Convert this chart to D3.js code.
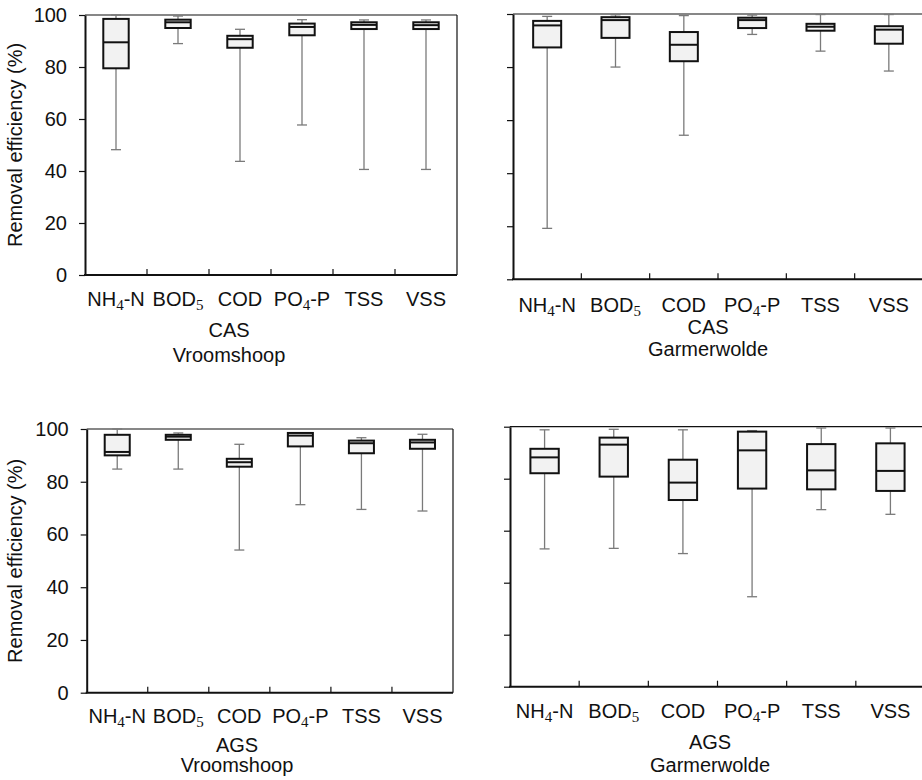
<!DOCTYPE html>
<html lang="en">
<head>
<meta charset="utf-8">
<title>Removal efficiency box plots</title>
<script src="https://cdn.jsdelivr.net/npm/d3@7"></script>
<style>
  body { margin: 0; background: #fff; }
  text { font-family: "Liberation Sans", Arial, sans-serif; fill: #111; }
</style>
</head>
<body>
<script>
// categories, each label split into [main, subscript, rest]
var categories = ["NH4-N", "BOD5", "COD", "PO4-P", "TSS", "VSS"];
var catParts = [["NH", "4", "-N"], ["BOD", "5", ""], ["COD", "", ""], ["PO", "4", "-P"], ["TSS", "", ""], ["VSS", "", ""]];
var yTicks = [0, 20, 40, 60, 80, 100];

// [min, q1, median, q3, max] per category
var casVroomshoop = [
  [48.2, 79.5, 89.5, 98.5, 100],
  [89, 95, 97.2, 98.2, 99.6],
  [43.7, 87.4, 90.7, 92, 94.5],
  [57.7, 92.2, 95.4, 96.7, 98.2],
  [40.6, 94.6, 96.2, 97.2, 98.1],
  [40.6, 94.6, 96.1, 97.2, 98.1]
];
var casGarmerwolde = [
  [19.2, 87.4, 95.7, 97.4, 99.1],
  [80, 91, 97.7, 98.8, 99.7],
  [54.3, 82.2, 88.4, 93.2, 99.4],
  [92.3, 94.7, 97.7, 98.6, 99.6],
  [86, 93.7, 95.2, 96.3, 99.8],
  [78.5, 88.8, 94.1, 95.4, 99.8]
];
var agsVroomshoop = [
  [84.8, 90, 91.3, 97.8, 100],
  [84.8, 95.9, 97.1, 97.8, 98.5],
  [54.1, 85.7, 87.4, 88.7, 94.2],
  [71.3, 93.4, 97.5, 98.5, 98.6],
  [69.5, 90.8, 94.6, 95.6, 96.7],
  [68.9, 92.5, 94.9, 95.9, 98]
];
var agsGarmerwolde = [
  [53, 82.1, 88.2, 91.5, 98.8],
  [53.2, 80.8, 93.1, 95.8, 99],
  [51.2, 71.8, 78.5, 87.3, 98.8],
  [34.6, 76.2, 90.9, 98.1, 98.5],
  [68.1, 75.9, 83.2, 93.3, 99.5],
  [66.3, 75.3, 83, 93.6, 99.5]
];

var svg = d3.select("body").append("svg")
  .attr("width", 922).attr("height", 780);

var panels = [
  {data: casVroomshoop, l: 85, t: 15, r: 457, b: 275, labels: true, lab: 306,
   title: ["CAS", "Vroomshoop"], tx: 229, ty: [337, 361.5]},
  {data: casGarmerwolde, l: 513, t: 14, r: 923, b: 279.3, labels: false, lab: 311.5,
   title: ["CAS", "Garmerwolde"], tx: 708, ty: [334, 356]},
  {data: agsVroomshoop, l: 86.7, t: 429, r: 453, b: 692.7, labels: true, lab: 723,
   title: ["AGS", "Vroomshoop"], tx: 237, ty: [751.5, 772]},
  {data: agsGarmerwolde, l: 510, t: 426.7, r: 925, b: 686.7, labels: false, lab: 718,
   title: ["AGS", "Garmerwolde"], tx: 710, ty: [749.3, 771.5]}
];

panels.forEach(function(p) {
  var x = d3.scaleBand().domain(categories).range([p.l, p.r]).padding(0);
  var y = d3.scaleLinear().domain([0, 100]).range([p.b, p.t]);
  var g = svg.append("g");

  // top and right frame
  g.append("line").attr("x1", p.l).attr("x2", p.r).attr("y1", y(100)).attr("y2", y(100))
    .attr("stroke", "#111").attr("stroke-width", 1.2);
  g.append("line").attr("x1", p.r).attr("x2", p.r).attr("y1", y(100)).attr("y2", y(0))
    .attr("stroke", "#111").attr("stroke-width", 1.2);

  // y axis
  var ax = g.append("g").attr("transform", "translate(" + p.l + ",0)")
    .call(d3.axisLeft(y).tickValues(yTicks).tickSize(6).tickSizeOuter(0).tickPadding(12)
      .tickFormat(p.labels ? d3.format("d") : function() { return ""; }));
  ax.select(".domain").attr("stroke", "#111").attr("stroke-width", 2);
  ax.selectAll(".tick line").attr("stroke", "#111").attr("stroke-width", 1.2);
  ax.selectAll(".tick text").attr("font-size", 20).attr("font-family", "Liberation Sans, Arial, sans-serif").attr("fill", "#111");

  // x axis line and inner ticks at band boundaries
  g.append("line").attr("x1", p.l - 1).attr("x2", p.r).attr("y1", y(0)).attr("y2", y(0))
    .attr("stroke", "#111").attr("stroke-width", 2);
  g.selectAll(".xt").data(categories.slice(1)).enter().append("line")
    .attr("x1", function(d) { return x(d); }).attr("x2", function(d) { return x(d); })
    .attr("y1", y(0)).attr("y2", y(0) - 6)
    .attr("stroke", "#111").attr("stroke-width", 1.2);

  // x labels with subscripts
  var lbl = g.selectAll(".xl").data(categories).enter().append("text")
    .attr("x", function(d) { return x(d) + x.bandwidth() / 2; })
    .attr("y", p.lab).attr("text-anchor", "middle").attr("font-size", 20);
  lbl.each(function(d, i) {
    var t = d3.select(this), parts = catParts[i];
    t.append("tspan").text(parts[0]);
    if (parts[1]) {
      t.append("tspan").attr("dy", 4).attr("font-size", 15)
        .style("font-family", "Liberation Serif, DejaVu Serif, serif").text(parts[1]);
      t.append("tspan").attr("dy", -4).text(parts[2]);
    }
  });

  // titles
  g.selectAll(".tt").data(p.title).enter().append("text")
    .attr("x", p.tx).attr("y", function(d, i) { return p.ty[i]; })
    .attr("text-anchor", "middle").attr("font-size", 20).text(function(d) { return d; });

  // boxes
  var bw = x.bandwidth() * 0.41, cap = 10;
  var box = g.selectAll(".bx").data(p.data).enter().append("g")
    .attr("transform", function(d, i) { return "translate(" + (x(categories[i]) + x.bandwidth() / 2) + ",0)"; });
  box.append("line").attr("x1", 0).attr("x2", 0)
    .attr("y1", function(d) { return y(d[0]); }).attr("y2", function(d) { return y(d[1]); })
    .attr("stroke", "#7a7a7a").attr("stroke-width", 1.3);
  box.append("line").attr("x1", 0).attr("x2", 0)
    .attr("y1", function(d) { return y(d[3]); }).attr("y2", function(d) { return y(d[4]); })
    .attr("stroke", "#7a7a7a").attr("stroke-width", 1.3);
  box.append("line").attr("x1", -cap / 2).attr("x2", cap / 2)
    .attr("y1", function(d) { return y(d[0]); }).attr("y2", function(d) { return y(d[0]); })
    .attr("stroke", "#7a7a7a").attr("stroke-width", 1.3);
  box.append("line").attr("x1", -cap / 2).attr("x2", cap / 2)
    .attr("y1", function(d) { return y(d[4]); }).attr("y2", function(d) { return y(d[4]); })
    .attr("stroke", "#7a7a7a").attr("stroke-width", 1.3);
  box.append("rect").attr("x", -bw / 2).attr("width", bw)
    .attr("y", function(d) { return y(d[3]); })
    .attr("height", function(d) { return y(d[1]) - y(d[3]); })
    .attr("fill", "#f2f2f2").attr("stroke", "#111").attr("stroke-width", 2);
  box.append("line").attr("x1", -bw / 2).attr("x2", bw / 2)
    .attr("y1", function(d) { return y(d[2]); }).attr("y2", function(d) { return y(d[2]); })
    .attr("stroke", "#111").attr("stroke-width", 2);

  // y axis title
  if (p.labels) {
    g.append("text").attr("transform", "translate(22," + ((p.t + p.b) / 2) + ") rotate(-90)")
      .attr("text-anchor", "middle").attr("font-size", 20).text("Removal efficiency (%)");
  }
});
</script>
</body>
</html>
